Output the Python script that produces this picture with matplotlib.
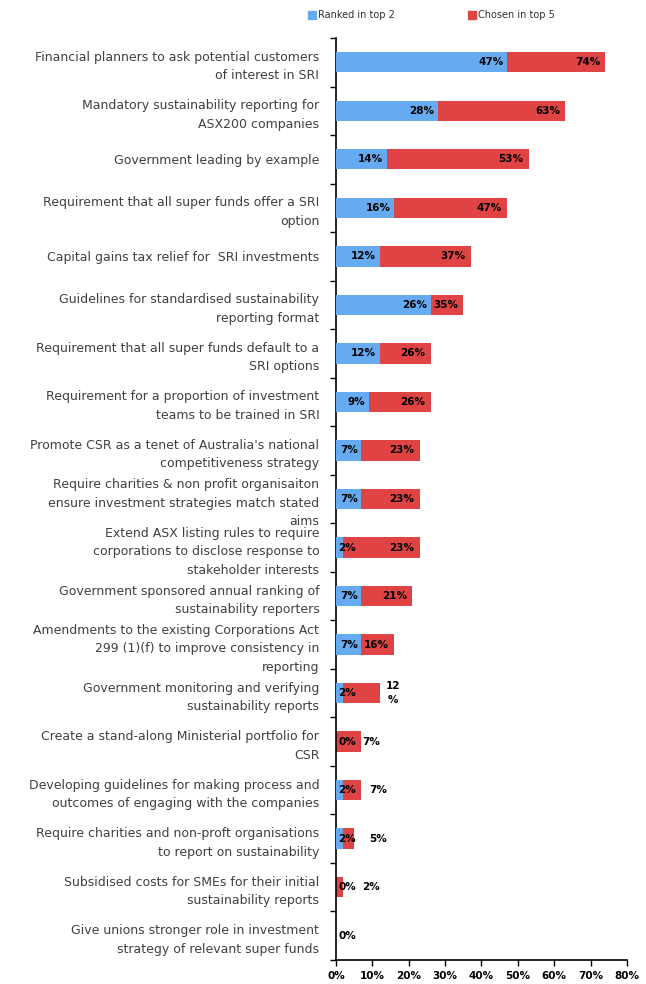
import matplotlib
matplotlib.use("Agg")
from matplotlib import pyplot as plt
import numpy as np

categories = [
    "Financial planners to ask potential customers\nof interest in SRI",
    "Mandatory sustainability reporting for\nASX200 companies",
    "Government leading by example",
    "Requirement that all super funds offer a SRI\noption",
    "Capital gains tax relief for  SRI investments",
    "Guidelines for standardised sustainability\nreporting format",
    "Requirement that all super funds default to a\nSRI options",
    "Requirement for a proportion of investment\nteams to be trained in SRI",
    "Promote CSR as a tenet of Australia's national\ncompetitiveness strategy",
    "Require charities & non profit organisaiton\nensure investment strategies match stated\naims",
    "Extend ASX listing rules to require\ncorporations to disclose response to\nstakeholder interests",
    "Government sponsored annual ranking of\nsustainability reporters",
    "Amendments to the existing Corporations Act\n299 (1)(f) to improve consistency in\nreporting",
    "Government monitoring and verifying\nsustainability reports",
    "Create a stand-along Ministerial portfolio for\nCSR",
    "Developing guidelines for making process and\noutcomes of engaging with the companies",
    "Require charities and non-proft organisations\nto report on sustainability",
    "Subsidised costs for SMEs for their initial\nsustainability reports",
    "Give unions stronger role in investment\nstrategy of relevant super funds",
]
top2 = [47, 28, 14, 16, 12, 26, 12, 9, 7, 7, 2, 7, 7, 2, 0, 2, 2, 0, 0]
top5 = [74, 63, 53, 47, 37, 35, 26, 26, 23, 23, 23, 21, 16, 12, 7, 7, 5, 2, 0]
xticks = [0, 10, 20, 30, 40, 50, 60, 70, 80]

BLUE = "#66abf2"
RED = "#e04343"

fig = plt.figure(figsize=(6.46, 9.84), dpi=100)
ax = fig.add_axes([0.520, 0.0244, 0.4506, 0.937])

y = np.arange(len(categories))
h = 0.42
ax.barh(y, top5, height=h, color=RED, zorder=2)
ax.barh(y, top2, height=h, color=BLUE, zorder=3)

ax.set_xlim(0, 80)
ax.set_ylim(len(categories) - 0.5, -0.5)

# value labels: inside the bar end when there is room, otherwise to the right
lab = dict(fontsize=7.5, fontweight="bold", color="black", va="center", zorder=5)
for i, (b, r) in enumerate(zip(top2, top5)):
    bx = max(b - 1, 5.5)
    ax.text(bx, i, f"{b}%", ha="right", **lab)
    if r == 0:
        continue
    if r - max(b, 6) >= 9:
        ax.text(r - 1.4, i, f"{r}%", ha="right", **lab)
    elif r >= 10:
        ax.text(r + 3.6, i, f"{r}\n%", ha="center", multialignment="center",
                linespacing=1.6, **lab)
    else:
        x0 = max(r, 7) + (0.2 if b == 0 else 2.2)
        ax.text(x0, i, f"{r}%", ha="left", **lab)

ax.set_yticks(y)
ax.set_yticklabels(categories, fontsize=9, color="#404040", linespacing=1.55)
ax.tick_params(axis="y", length=0, pad=12)
ax.set_yticks(np.arange(len(categories) + 1) - 0.5, minor=True)
ax.tick_params(axis="y", which="minor", length=4, width=1, direction="out")

ax.set_xticks(xticks)
ax.set_xticklabels([f"{t}%" for t in xticks], fontsize=7.5, fontweight="bold")
ax.tick_params(axis="x", length=4, width=1, direction="out", pad=4)

for s in ["top", "right"]:
    ax.spines[s].set_visible(False)
for s in ["left", "bottom"]:
    ax.spines[s].set_linewidth(1.2)

# legend along the top
fig.patches.append(plt.Rectangle((308 / 646, 1 - 19 / 984), 8 / 646, 8 / 984,
                                 transform=fig.transFigure, color=BLUE))
fig.text(318 / 646, 1 - 15 / 984, "Ranked in top 2", fontsize=7, color="#303030", va="center")
fig.patches.append(plt.Rectangle((468 / 646, 1 - 19 / 984), 8 / 646, 8 / 984,
                                 transform=fig.transFigure, color=RED))
fig.text(478 / 646, 1 - 15 / 984, "Chosen in top 5", fontsize=7, color="#303030", va="center")

fig.savefig("out.png", dpi=100)
